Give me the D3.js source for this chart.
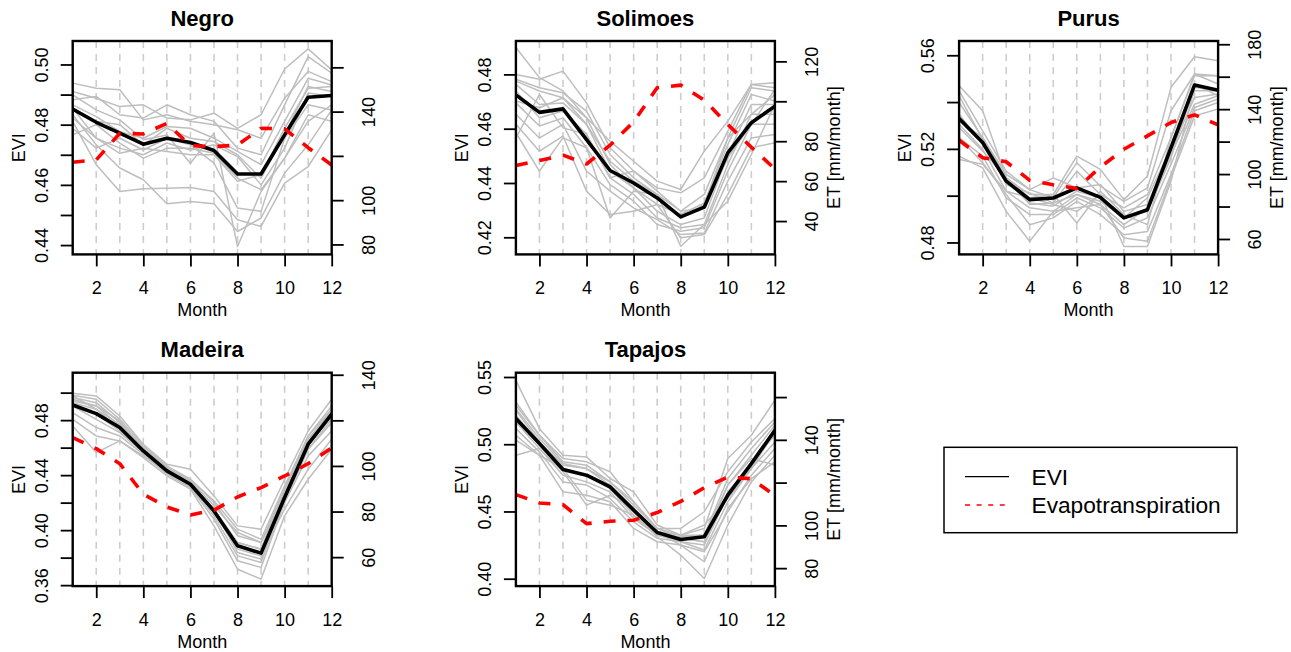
<!DOCTYPE html>
<html>
<head>
<meta charset="utf-8">
<script src="https://cdn.jsdelivr.net/npm/d3@7"></script>
<style>
  body { margin: 0; background: #fff; }
  svg { display: block; }
  text { font-family: "Liberation Sans", Arial, Helvetica, sans-serif; fill: #000; }
</style>
</head>
<body>
<svg id="chart" width="1291" height="652"></svg>
<script>
// ---- data -------------------------------------------------------------
const months = [1, 2, 3, 4, 5, 6, 7, 8, 9, 10, 11, 12];
const monthTicks = [2, 4, 6, 8, 10, 12];
const basins = ["Negro", "Solimoes", "Purus", "Madeira", "Tapajos"];

// Negro: yearly EVI curves, mean EVI, mean ET
const negroYears = [
  [.4938,.4921,.4916,.4816,.4833,.4811,.4800,.4783,.4755,.4888,.4977,.4943],
  [.4910,.4888,.4860,.4866,.4822,.4816,.4838,.4788,.4833,.4985,.5052,.4982],
  [.4883,.4894,.4833,.4822,.4866,.4833,.4811,.4722,.4700,.4866,.5026,.4971],
  [.4866,.4827,.4777,.4755,.4794,.4788,.4755,.4711,.4667,.4811,.4954,.4932],
  [.4849,.4811,.4800,.4733,.4788,.4755,.4744,.4700,.4622,.4766,.4927,.4910],
  [.4822,.4755,.4722,.4700,.4739,.4716,.4733,.4694,.4600,.4722,.4905,.4894],
  [.4788,.4722,.4755,.4716,.4755,.4733,.4672,.4523,.4512,.4755,.4866,.4849],
  [.4766,.4800,.4739,.4689,.4722,.4722,.4705,.4622,.4584,.4689,.4833,.4811],
  [.4811,.4667,.4578,.4587,.4589,.4591,.4578,.4484,.4462,.4606,.4661,.4783],
  [.4833,.4733,.4656,.4617,.4537,.4545,.4537,.4445,.4490,.4639,.4733,.4849],
  [.4899,.4849,.4816,.4750,.4766,.4672,.4772,.4395,.4578,.4689,.4811,.4866],
  [.4855,.4755,.4705,.4722,.4711,.4700,.4700,.4612,.4634,.4788,.4921,.4927]
];
const negroEVI = [.4852,.4808,.4772,.4735,.4755,.4741,.4714,.4636,.4636,.4766,.4891,.4897];
const negroET  = [117.1,118.2,130.2,129.9,134.7,124.6,124.2,124.9,132.5,132.2,123.7,115.9];

// Solimoes
const solimoesYears = [
  [.4899,.4788,.4739,.4640,.4554,.4480,.4407,.4376,.4517,.4628,.4763,.4769],
  [.4800,.4782,.4812,.4695,.4530,.4444,.4382,.4364,.4419,.4591,.4763,.4751],
  [.4782,.4751,.4732,.4665,.4505,.4419,.4358,.4296,.4358,.4566,.4751,.4739],
  [.4775,.4739,.4714,.4640,.4468,.4382,.4321,.4284,.4327,.4542,.4726,.4702],
  [.4763,.4689,.4695,.4616,.4444,.4382,.4296,.4247,.4271,.4505,.4689,.4689],
  [.4739,.4640,.4665,.4579,.4419,.4358,.4271,.4235,.4247,.4468,.4653,.4653],
  [.4695,.4610,.4640,.4530,.4394,.4333,.4247,.4222,.4235,.4444,.4616,.4616],
  [.4653,.4566,.4616,.4444,.4370,.4308,.4265,.4210,.4216,.4407,.4566,.4579],
  [.4616,.4517,.4573,.4370,.4284,.4296,.4321,.4198,.4210,.4358,.4530,.4548],
  [.4585,.4444,.4566,.4530,.4271,.4370,.4358,.4167,.4247,.4333,.4505,.4689],
  [.4566,.4726,.4603,.4579,.4419,.4444,.4370,.4296,.4308,.4493,.4616,.4745],
  [.4702,.4677,.4714,.4616,.4480,.4407,.4358,.4271,.4321,.4566,.4653,.4726]
];
const solimoesEVI = [.4724,.4660,.4673,.4560,.4446,.4400,.4345,.4275,.4311,.4511,.4622,.4683];
const solimoesET  = [67.8,70.3,73.0,68.6,78.0,89.7,106.8,108.1,100.6,88.4,77.0,66.1];

// Purus
const purusYears = [
  [.5470,.5363,.5076,.4991,.5005,.5169,.5112,.4983,.5084,.5463,.5594,.5577],
  [.5448,.5277,.5105,.5026,.4991,.5141,.5041,.4976,.5033,.5363,.5520,.5513],
  [.5427,.5241,.5048,.5012,.4969,.5105,.5005,.4948,.5005,.5248,.5513,.5513],
  [.5348,.5219,.5062,.4969,.4955,.5019,.4991,.4905,.4991,.5205,.5448,.5448],
  [.5305,.5198,.5019,.4948,.4933,.5005,.4962,.4876,.4948,.5176,.5391,.5427],
  [.5248,.5169,.4991,.4919,.4919,.4991,.4948,.4862,.4905,.5134,.5377,.5413],
  [.5248,.5141,.5005,.4876,.4905,.4976,.4919,.4833,.4847,.5091,.5363,.5398],
  [.5169,.5119,.4933,.4805,.4933,.4948,.4962,.4819,.4805,.5076,.5341,.5370],
  [.5155,.5134,.5019,.4991,.4962,.4933,.5005,.4783,.4783,.5062,.5463,.5448],
  [.5291,.5191,.5076,.5005,.5005,.4883,.5019,.4919,.4876,.5248,.5520,.5477],
  [.5398,.5248,.5091,.5026,.5076,.5033,.5048,.4933,.4962,.5191,.5420,.5434],
  [.5320,.5248,.5076,.4962,.4969,.5005,.4976,.4905,.4933,.5162,.5477,.5427]
];
const purusEVI = [.5330,.5227,.5062,.4983,.4990,.5033,.4993,.4905,.4940,.5205,.5473,.5451];
const purusET  = [120.8,110.1,107.6,96.1,93.4,91.1,104.3,115.3,123.5,131.8,136.5,130.3];

// Madeira
const madeiraYears = [
  [.4995,.4976,.4830,.4625,.4479,.4443,.4249,.4031,.4007,.4370,.4721,.4952],
  [.4981,.4952,.4806,.4613,.4467,.4370,.4213,.4007,.3934,.4322,.4685,.4903],
  [.4964,.4927,.4782,.4600,.4455,.4358,.4177,.3983,.3910,.4298,.4661,.4867],
  [.4939,.4903,.4758,.4588,.4443,.4346,.4152,.3910,.3862,.4273,.4637,.4830],
  [.4927,.4879,.4734,.4576,.4431,.4334,.4128,.3862,.3813,.4249,.4613,.4830],
  [.4903,.4806,.4709,.4564,.4419,.4322,.4104,.3813,.3765,.4225,.4588,.4782],
  [.4855,.4746,.4685,.4552,.4407,.4310,.4080,.3777,.3729,.4201,.4540,.4721],
  [.4806,.4685,.4649,.4528,.4395,.4298,.4031,.3716,.3644,.4104,.4370,.4588],
  [.4758,.4564,.4649,.4540,.4419,.4322,.4128,.3886,.3825,.4152,.4443,.4661],
  [.4976,.4879,.4770,.4588,.4443,.4370,.4201,.3959,.3910,.4249,.4649,.4879],
  [.4915,.4843,.4721,.4564,.4431,.4334,.4140,.3910,.3862,.4298,.4685,.4879],
  [.4952,.4903,.4794,.4588,.4455,.4346,.4152,.3838,.3789,.4201,.4588,.4806]
];
const madeiraEVI = [.4910,.4847,.4746,.4576,.4431,.4334,.4140,.3886,.3833,.4237,.4625,.4843];
const madeiraET  = [112.4,107.6,101.0,87.6,82.0,78.5,80.6,86.4,90.5,95.6,101.0,107.9];

// Tapajos
const tapajosYears = [
  [.5475,.5116,.4918,.4906,.4745,.4646,.4399,.4324,.4374,.4894,.5067,.5327],
  [.5314,.5067,.4894,.4869,.4795,.4572,.4374,.4374,.4498,.4795,.5017,.5191],
  [.5265,.5042,.4856,.4819,.4696,.4522,.4349,.4324,.4324,.4745,.4968,.5166],
  [.5215,.5005,.4819,.4770,.4671,.4473,.4324,.4300,.4275,.4696,.4918,.5141],
  [.5166,.4968,.4770,.4720,.4646,.4448,.4324,.4275,.4250,.4621,.4869,.5067],
  [.5116,.4943,.4720,.4696,.4597,.4423,.4300,.4275,.4213,.4572,.4819,.5017],
  [.5067,.4918,.4646,.4621,.4572,.4374,.4275,.4250,.4200,.4498,.4770,.4968],
  [.5030,.4918,.4819,.4584,.4547,.4473,.4312,.4176,.4002,.4399,.4720,.4918],
  [.4918,.4968,.4795,.4547,.4621,.4522,.4349,.4250,.4126,.4522,.4745,.4869],
  [.5252,.5017,.4844,.4819,.4720,.4572,.4374,.4300,.4275,.4646,.4844,.5116],
  [.5191,.4993,.4819,.4770,.4696,.4498,.4324,.4312,.4324,.4696,.4894,.4844],
  [.5290,.5067,.4869,.4844,.4720,.4547,.4374,.4324,.4399,.4597,.4819,.5092]
];
const tapajosEVI = [.5191,.5005,.4812,.4770,.4683,.4510,.4344,.4292,.4312,.4621,.4856,.5104];
const tapajosET  = [114.4,110.5,109.7,100.8,101.9,102.4,106.0,111.2,117.6,122.6,121.8,114.0];

// axis limits and ticks (value, labelled values)
const eviLimits = [[0.4369, 0.5078], [0.4137, 0.4923], [0.4749, 0.5661], [0.3593, 0.5145], [0.3945, 0.5532]];
const etLimits  = [[75.5, 171.9], [23.3, 130.2], [50.5, 182.0], [47.3, 140.9], [71.6, 171.4]];
const eviTicks = [
  [0.44, 0.45, 0.46, 0.47, 0.48, 0.49, 0.50],
  [0.42, 0.44, 0.46, 0.48],
  [0.48, 0.50, 0.52, 0.54, 0.56],
  [0.36, 0.38, 0.40, 0.42, 0.44, 0.46, 0.48, 0.50],
  [0.40, 0.45, 0.50, 0.55]
];
const eviLabelled = [
  [0.44, 0.46, 0.48, 0.50],
  [0.42, 0.44, 0.46, 0.48],
  [0.48, 0.52, 0.56],
  [0.36, 0.40, 0.44, 0.48],
  [0.40, 0.45, 0.50, 0.55]
];
const etTicks = [
  [80, 100, 120, 140, 160],
  [40, 60, 80, 100, 120],
  [60, 80, 100, 120, 140, 160, 180],
  [60, 80, 100, 120, 140],
  [80, 100, 120, 140, 160]
];
const etLabelled = [
  [80, 100, 140],
  [40, 60, 80, 120],
  [60, 100, 140, 180],
  [60, 80, 100, 140],
  [80, 100, 140]
];
const legendLabels = ["EVI", "Evapotranspiration"];

// ---- layout -------------------------------------------------------------
const svg = d3.select("#chart");
svg.append("rect").attr("width", 1291).attr("height", 652).attr("fill", "#fff");

const FONT = 18;
const plotW = 259, plotH = 213.4;
const colLeft = c => 72.7 + c * 443.2;
const rowTop = r => (r === 0 ? 41 : 372.7);
const fmtEVI = d3.format(".2f");
const has = (arr, v) => arr.some(a => Math.abs(a - v) < 1e-9);

const panels = [
  { years: negroYears, evi: negroEVI, et: negroET, row: 0, col: 0, etTitleHidden: true },
  { years: solimoesYears, evi: solimoesEVI, et: solimoesET, row: 0, col: 1 },
  { years: purusYears, evi: purusEVI, et: purusET, row: 0, col: 2 },
  { years: madeiraYears, evi: madeiraEVI, et: madeiraET, row: 1, col: 0, etTitleHidden: true },
  { years: tapajosYears, evi: tapajosEVI, et: tapajosET, row: 1, col: 1 }
];

panels.forEach((p, i) => {
  const left = colLeft(p.col), top = rowTop(p.row);
  const right = left + plotW, bottom = top + plotH;

  const x = d3.scaleLinear().domain([1, 12]).range([left, right]);
  const yE = d3.scaleLinear().domain(eviLimits[i]).range([bottom, top]);
  const yT = d3.scaleLinear().domain(etLimits[i]).range([bottom, top]);

  const g = svg.append("g");
  const clipId = "clip" + i;
  g.append("clipPath").attr("id", clipId)
    .append("rect").attr("x", left).attr("y", top).attr("width", plotW).attr("height", plotH);
  const inner = g.append("g").attr("clip-path", `url(#${clipId})`);

  // dashed month guides
  inner.selectAll("line.guide").data(months.slice(1, 11)).join("line")
    .attr("class", "guide")
    .attr("x1", d => x(d)).attr("x2", d => x(d))
    .attr("y1", top).attr("y2", bottom)
    .attr("stroke", "#cdcdcd").attr("stroke-width", 1.6)
    .attr("stroke-dasharray", "7,6");

  const lineE = d3.line().x((d, j) => x(months[j])).y(d => yE(d));
  const lineT = d3.line().x((d, j) => x(months[j])).y(d => yT(d));

  // individual years
  inner.selectAll("path.year").data(p.years).join("path")
    .attr("class", "year")
    .attr("d", lineE)
    .attr("fill", "none").attr("stroke", "#bebebe").attr("stroke-width", 1.5)
    .attr("stroke-linejoin", "round");

  // mean EVI
  inner.append("path").attr("d", lineE(p.evi))
    .attr("fill", "none").attr("stroke", "#000").attr("stroke-width", 3.6)
    .attr("stroke-linejoin", "round").attr("stroke-linecap", "round");

  // evapotranspiration
  inner.append("path").attr("d", lineT(p.et))
    .attr("fill", "none").attr("stroke", "#ff0000").attr("stroke-width", 3.6)
    .attr("stroke-dasharray", "12,12").attr("stroke-linejoin", "round");

  // frame
  g.append("rect").attr("x", left).attr("y", top).attr("width", plotW).attr("height", plotH)
    .attr("fill", "none").attr("stroke", "#000").attr("stroke-width", 2.4);

  // bottom axis (months)
  const ax = g.append("g").attr("transform", `translate(0,${bottom})`)
    .call(d3.axisBottom(x).tickValues(monthTicks).tickSize(12).tickSizeOuter(0).tickFormat(d3.format("d")));
  ax.select(".domain").remove();
  ax.selectAll(".tick line").attr("stroke", "#000").attr("stroke-width", 1.8);
  ax.selectAll(".tick text").attr("y", 40).attr("dy", 0)
    .attr("font-size", FONT).attr("fill", "#000");

  // left axis (EVI)
  const ay = g.append("g").attr("transform", `translate(${left},0)`)
    .call(d3.axisLeft(yE).tickValues(eviTicks[i]).tickSize(12).tickSizeOuter(0)
      .tickFormat(d => has(eviLabelled[i], d) ? fmtEVI(d) : ""));
  ay.select(".domain").remove();
  ay.selectAll(".tick line").attr("stroke", "#000").attr("stroke-width", 1.8);
  ay.selectAll(".tick text").attr("transform", "rotate(-90)")
    .attr("x", 0).attr("y", -25).attr("dy", 0).attr("text-anchor", "middle")
    .attr("font-size", FONT).attr("fill", "#000");

  // right axis (ET)
  const ar = g.append("g").attr("transform", `translate(${right},0)`)
    .call(d3.axisRight(yT).tickValues(etTicks[i]).tickSize(12).tickSizeOuter(0)
      .tickFormat(d => has(etLabelled[i], d) ? String(d) : ""));
  ar.select(".domain").remove();
  ar.selectAll(".tick line").attr("stroke", "#000").attr("stroke-width", 1.8);
  ar.selectAll(".tick text").attr("transform", "rotate(-90)")
    .attr("x", 0).attr("y", 43).attr("dy", 0).attr("text-anchor", "middle")
    .attr("font-size", FONT).attr("fill", "#000");

  // titles
  const midX = (left + right) / 2, midY = (top + bottom) / 2;
  g.append("text").attr("x", midX).attr("y", top - 15.5)
    .attr("text-anchor", "middle").attr("font-size", 22).attr("font-weight", "bold")
    .text(basins[i]);
  g.append("text").attr("x", midX).attr("y", bottom + 61.5)
    .attr("text-anchor", "middle").attr("font-size", FONT).text("Month");
  g.append("text").attr("transform", `translate(${left - 47.7},${midY}) rotate(-90)`)
    .attr("text-anchor", "middle").attr("font-size", FONT).text("EVI");

  const etTitle = g.append("text").attr("transform", `translate(${right + 65},${midY}) rotate(-90)`)
    .attr("text-anchor", "middle").attr("font-size", FONT).text("ET [mm/month]");
  if (p.etTitleHidden) {
    // the neighbouring panel paints over this label; only a pale sliver remains
    const cid = "etclip" + i;
    g.append("clipPath").attr("id", cid).append("rect")
      .attr("x", right + 40).attr("y", top).attr("width", 8.5).attr("height", plotH);
    etTitle.attr("clip-path", `url(#${cid})`).attr("fill", "#f4e2cc");
  }
});

// ---- legend -------------------------------------------------------------
const lg = svg.append("g");
lg.append("rect").attr("x", 944).attr("y", 447.3).attr("width", 293).attr("height", 85.4)
  .attr("fill", "#fff").attr("stroke", "#000").attr("stroke-width", 1.5);
const legendStyles = [
  { stroke: "#000", dash: null, y: 476.7, ty: 485 },
  { stroke: "#ff0000", dash: "5,6.6", y: 505, ty: 512.5 }
];
legendLabels.forEach((lab, k) => {
  const s = legendStyles[k];
  const ln = lg.append("line").attr("x1", 965).attr("x2", 1009).attr("y1", s.y).attr("y2", s.y)
    .attr("stroke", s.stroke).attr("stroke-width", 1.3);
  if (s.dash) ln.attr("stroke-dasharray", s.dash);
  lg.append("text").attr("x", 1031.5).attr("y", s.ty).attr("font-size", 22.7).text(lab);
});
</script>
</body>
</html>
